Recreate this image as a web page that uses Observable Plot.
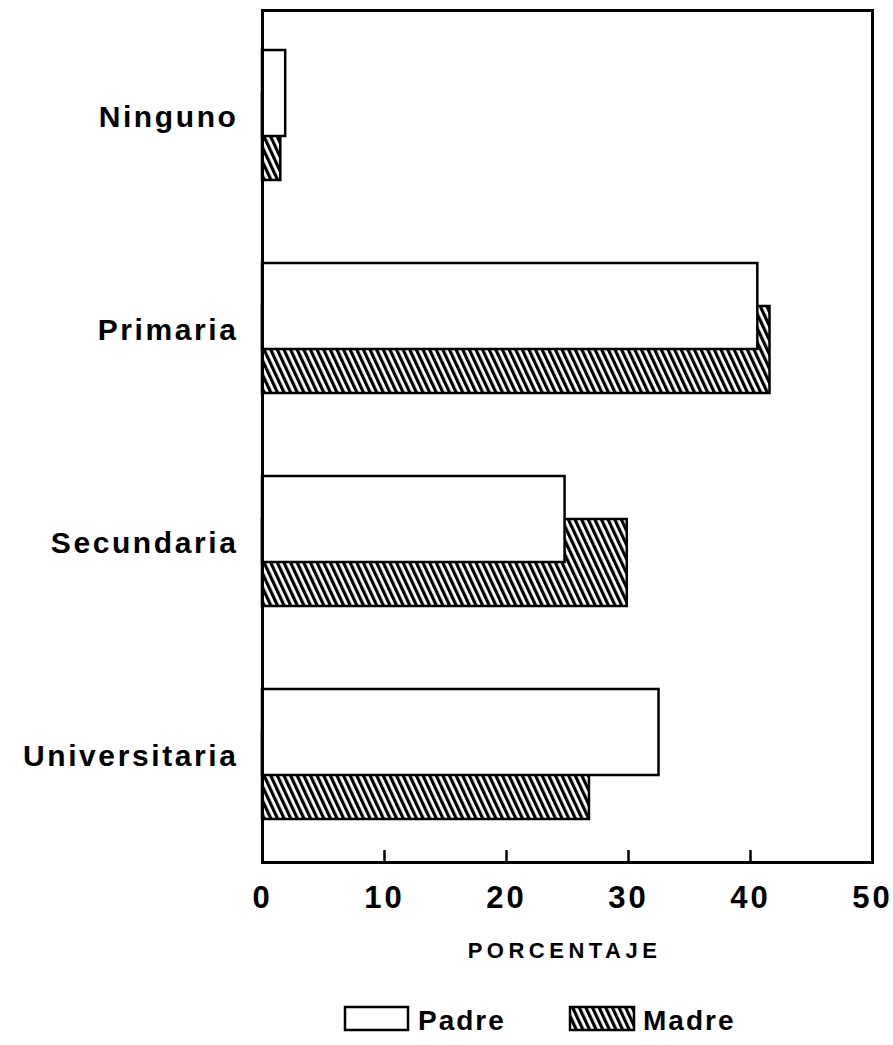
<!DOCTYPE html>
<html>
<head>
<meta charset="utf-8">
<script src="https://cdn.jsdelivr.net/npm/d3@7"></script>
<script src="https://cdn.jsdelivr.net/npm/@observablehq/plot@0.6"></script>
<style>
  html, body { margin: 0; padding: 0; background: #fff; }
  #wrap { position: relative; width: 893px; height: 1045px; font-family: "Liberation Sans", Arial, sans-serif; }
  #legend { position: absolute; left: 0; top: 990px; }
</style>
</head>
<body>
<div id="wrap"><div id="chart"></div><div id="legend"></div></div>
<script>
// ---- data ----
const categories = ["Ninguno", "Primaria", "Secundaria", "Universitaria"];
const padre = [1.9, 40.6, 24.8, 32.5];
const madre = [1.5, 41.6, 29.9, 26.8];
const seriesNames = ["Padre", "Madre"];
const xTicks = [0, 10, 20, 30, 40, 50];
const innerTicks = [10, 20, 30, 40];
const axisTitle = "PORCENTAJE";

const padreData = categories.map((c, i) => ({cat: c, value: padre[i]}));
const madreData = categories.map((c, i) => ({cat: c, value: madre[i]}));

function hatchDefs(id) {
  const defs = d3.create("svg:defs");
  const p = defs.append("pattern")
    .attr("id", id)
    .attr("patternUnits", "userSpaceOnUse")
    .attr("width", 6).attr("height", 6)
    .attr("patternTransform", "rotate(-25)");
  p.append("rect").attr("width", 6).attr("height", 6).attr("fill", "white");
  p.append("rect").attr("x", 0).attr("width", 3.2).attr("height", 6).attr("fill", "black");
  return defs;
}

const chart = Plot.plot({
  width: 893,
  height: 990,
  marginTop: 10,
  marginBottom: 128,
  marginLeft: 262,
  marginRight: 21,
  style: {fontFamily: '"Liberation Sans", Arial, sans-serif', color: "black", background: "white"},
  x: {domain: [0, 50], label: null, axis: null},
  y: {domain: categories, padding: 0, label: null, axis: null},
  marks: [
    () => hatchDefs("hatch").node(),
    Plot.barX(madreData, {x: "value", y: "cat", fill: "url(#hatch)", stroke: "black", strokeWidth: 2.5, insetTop: 83, insetBottom: 43}),
    Plot.barX(padreData, {x: "value", y: "cat", fill: "white", stroke: "black", strokeWidth: 2.5, insetTop: 40, insetBottom: 87}),
    Plot.frame({stroke: "black", strokeWidth: 3}),
    Plot.axisX(innerTicks, {anchor: "bottom", tickSize: -12, strokeWidth: 2.5, tickFormat: () => "", label: null}),
    Plot.axisX(xTicks, {anchor: "bottom", tickSize: 0, tickPadding: 23, fontSize: 31, fontWeight: "bold", label: null}),
    Plot.axisY(categories, {anchor: "left", tickSize: 0, tickPadding: 24, fontSize: 30, fontWeight: "bold", label: null}),
    Plot.text([axisTitle], {frameAnchor: "bottom", dy: 95, fontSize: 22, fontWeight: "bold", text: d => d})
  ]
});
document.getElementById("chart").appendChild(chart);

// letter spacing tweaks (style only)
const sel = d3.select(chart);
sel.selectAll('g[aria-label="y-axis tick label"] text').style("letter-spacing", "2.6px");
sel.selectAll('g[aria-label="x-axis tick label"] text').style("letter-spacing", "3px");
sel.selectAll('g[aria-label="text"] text').style("letter-spacing", "4.5px").attr("dx", -3);

// ---- legend ----
const leg = d3.create("svg").attr("width", 893).attr("height", 55)
  .style("font-family", '"Liberation Sans", Arial, sans-serif');
leg.node().appendChild(hatchDefs("hatchLeg").node());
const legItems = [
  {name: seriesNames[0], fill: "white", x: 345, w: 63, tx: 418},
  {name: seriesNames[1], fill: "url(#hatchLeg)", x: 570, w: 64, tx: 643}
];
legItems.forEach(it => {
  leg.append("rect").attr("x", it.x).attr("y", 17).attr("width", it.w).attr("height", 23)
    .attr("fill", it.fill).attr("stroke", "black").attr("stroke-width", 2.5);
  leg.append("text").attr("x", it.tx).attr("y", 40).attr("font-size", 28).attr("font-weight", "bold")
    .attr("letter-spacing", "2px").text(it.name);
});
document.getElementById("legend").appendChild(leg.node());
</script>
</body>
</html>
